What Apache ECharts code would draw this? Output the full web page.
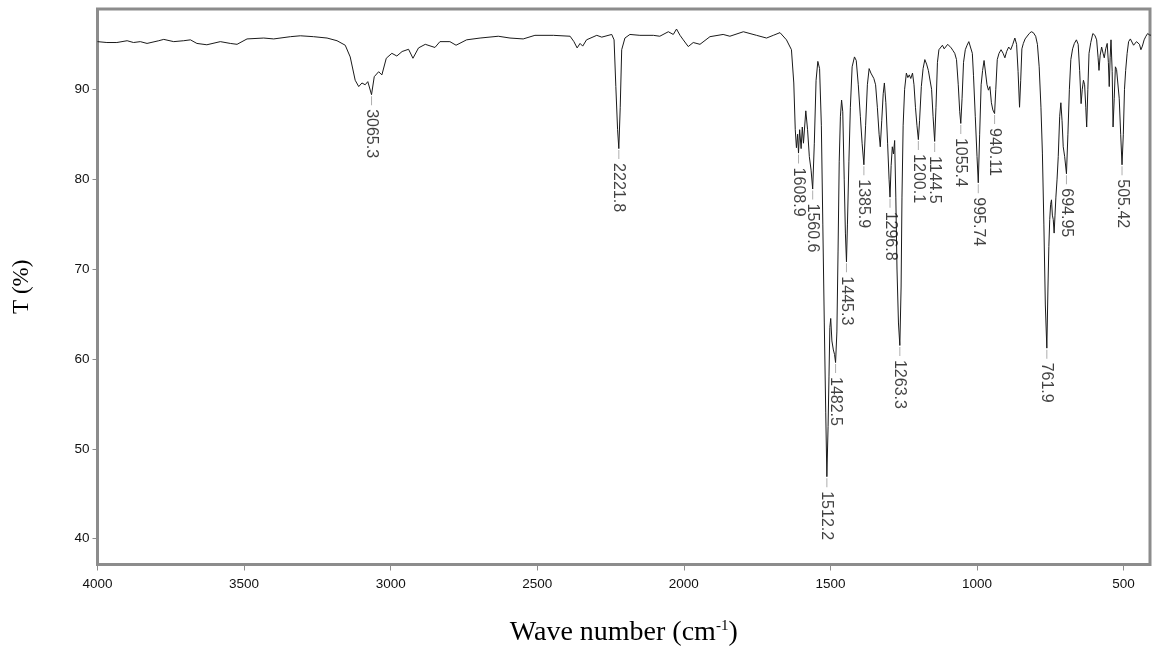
<!DOCTYPE html>
<html><head><meta charset="utf-8">
<script src="https://cdn.jsdelivr.net/npm/echarts@6/dist/echarts.min.js"></script>
<style>html,body{margin:0;padding:0;background:#fff}#c{width:1152px;height:652px}</style>
</head><body><div id="c"></div>
<script>
// Spectrum: wave number (cm-1) and transmittance (%)
const waveNumbers = [
4000,3968,3934,3899,3877,3854,3831,3791,3774,3740,3706,3683,3661,3627,3581,3547,3524,3490,3433,3399,
3342,3308,3263,3217,3183,3155,3138,3121,3109,3098,3087,3078,3065.3,3056,3041,3030,3015,2996,2979,2961,
2939,2924,2905,2882,2849,2832,2798,2777,2741,2695,2633,2593,2548,2508,2445,2388,2375,2364,2354,2345,
2332,2297,2280,2246,2238,2232,2226,2221.8,2217,2212,2201,2184,2150,2104,2082,2053,2036,2025,2013,2002,
1985,1968,1945,1911,1866,1843,1797,1752,1718,1695,1672,1650,1633,1625,1620,1616,1612,1608.9,1605,1600,
1596,1592,1584,1578,1572,1566,1560.6,1555,1549,1543,1537,1531,1526,1521,1516,1512.2,1508,1505,1502,1499,
1495,1490,1486,1482.5,1478,1474,1470,1466,1462,1458,1453,1449,1445.3,1442,1437,1432,1426,1418,1412,1405,
1398,1392,1385.9,1380,1374,1368,1362,1358,1352,1346,1340,1334,1330,1325,1320,1316,1311,1305,1300,1296.8,
1293,1289,1285,1281,1277,1273,1268,1263.3,1259,1256,1252,1247,1241,1236,1231,1226,1220,1215,1210,1205,
1200.1,1196,1190,1184,1178,1172,1166,1160,1155,1150,1144.5,1140,1135,1130,1124,1118,1112,1106,1100,1094,
1088,1082,1076,1070,1064,1059,1055.4,1051,1046,1040,1034,1028,1022,1016,1012,1006,1000,995.74,991,986,
981,976,971,966,961,956,951,946,940.11,936,931,925,918,911,905,899,892,885,878,871,
865,860,855,851,847,842,836,830,822,815,808,800,794,788,782,777,772,767,761.9,758,
755,752,749,746,743,740,737,734,731,727,723,718,714,710,706,701,694.95,690,685,680,
674,668,661,655,650,645,641,637,633,629,626,622,618,612,605,598,592,587,584,580,
575,570,566,561,556,552,549,546,543,539,536,532,528,524,520,515,510,505.42,501,497,
493,488,483,477,471,466,461,456,451,446,441,436,430,424,418,410,402
];
const transmittance = [
95.3,95.2,95.2,95.4,95.2,95.3,95.1,95.4,95.55,95.3,95.4,95.5,95.1,94.95,95.3,95.1,95.0,95.6,95.7,95.6,
95.85,95.95,95.85,95.7,95.4,94.9,93.6,91.0,90.3,90.7,90.5,90.85,89.4,91.4,91.95,91.6,93.45,94.0,93.7,94.2,
94.45,93.45,94.6,95.0,94.65,95.3,95.3,94.9,95.5,95.7,95.9,95.7,95.6,96.0,96.0,95.9,95.3,94.6,95.1,94.8,
95.5,96.0,95.8,96.1,95.5,90.3,85.5,83.4,88.0,94.4,95.7,96.1,96.0,96.0,95.9,96.4,96.1,96.7,96.0,95.5,
94.75,95.2,95.0,95.85,96.1,95.9,96.4,96.0,95.7,96.0,96.3,95.5,94.4,90.7,85.5,83.5,85.0,82.9,85.5,83.4,
85.8,84.0,87.6,85.5,82.5,81.0,78.9,84.0,91.0,93.1,92.3,86.0,75.0,64.0,54.0,46.9,52.5,58.0,63.5,64.5,
62.0,61.0,60.5,59.6,63.0,72.0,82.0,87.0,88.8,87.5,80.0,74.0,70.8,75.0,82.0,88.0,92.5,93.6,93.2,90.5,
87.0,84.0,81.6,86.0,90.5,92.3,91.8,92.0,91.2,90.5,88.0,85.0,83.6,86.5,89.5,90.7,88.5,84.0,80.0,78.0,
81.5,83.6,82.8,84.3,78.0,70.0,64.0,61.5,68.0,78.0,86.0,90.0,91.8,91.3,91.6,91.2,91.8,90.5,88.0,86.0,
84.4,86.5,90.3,92.3,93.3,92.8,92.1,92.0,90.0,87.0,84.2,88.0,93.0,94.4,94.6,94.9,94.5,94.4,95.0,95.1,
94.6,94.3,94.0,93.3,90.5,87.5,86.2,89.0,93.0,94.4,94.9,95.3,95.3,94.0,91.5,87.0,82.5,79.6,85.0,90.5,
92.1,93.2,93.4,90.5,89.9,90.3,88.5,87.7,87.3,90.0,93.3,94.0,94.4,94.0,93.5,94.2,94.7,94.4,95.0,95.7,
95.0,92.0,88.0,91.0,94.5,95.1,95.6,95.8,96.2,96.4,96.3,95.9,95.0,92.5,88.0,82.9,75.0,66.0,61.2,68.0,
72.5,75.5,77.2,77.7,76.0,75.5,74.0,76.0,78.0,80.0,82.5,87.0,88.5,86.5,83.6,82.5,80.6,85.0,90.0,93.3,
94.5,95.1,95.5,95.0,92.1,88.4,90.0,91.0,90.5,88.0,85.8,90.0,94.0,95.2,96.2,96.0,95.5,93.5,92.1,93.8,
94.7,94.0,93.5,94.5,95.1,93.0,90.3,93.5,95.5,92.0,85.8,89.0,92.5,92.2,92.0,89.0,85.0,81.6,85.0,90.0,
92.1,94.0,95.3,95.6,95.5,94.9,94.7,95.3,95.5,95.0,94.4,94.8,95.5,95.9,96.2,96.0,96.1
];
// Labelled peaks
const peakWaveNumbers = [3065.3,2221.8,1608.9,1560.6,1512.2,1482.5,1445.3,1385.9,1296.8,1263.3,1200.1,1144.5,1055.4,995.74,940.11,761.9,694.95,505.42];
const peakTransmittance = [89.4,83.4,82.9,78.9,46.9,59.6,70.8,81.6,78.0,61.5,84.4,84.2,86.2,79.6,87.3,61.2,80.6,81.6];
const peakLabels = ["3065.3","2221.8","1608.9","1560.6","1512.2","1482.5","1445.3","1385.9","1296.8","1263.3","1200.1","1144.5","1055.4","995.74","940.11","761.9","694.95","505.42"];
// Axis ticks
const xTicks = [500,1000,1500,2000,2500,3000,3500,4000];
const yTicks = [40,50,60,70,80,90];

const spectrum = waveNumbers.map((w, i) => [w, transmittance[i]]);
const peaks = peakWaveNumbers.map((w, i) => [w, peakTransmittance[i], peakLabels[i]]);

const chart = echarts.init(document.getElementById('c'), null, {renderer: 'canvas'});
chart.setOption({
  animation: false,
  backgroundColor: '#fff',
  grid: {left: 97.5, right: 2, top: 9, bottom: 87.5, show: true, borderColor: '#8c8c8c', borderWidth: 3, containLabel: false},
  xAxis: {
    type: 'value', inverse: true, min: 410, max: 4000,
    name: 'Wave number (cm{sup|-1})', nameLocation: 'middle', nameGap: 54,
    nameTextStyle: {fontFamily: 'Liberation Serif', fontSize: 28, color: '#000',
      rich: {sup: {fontFamily: 'Liberation Serif', fontSize: 15, color: '#000', padding: [0, 0, 14, 0]}}},
    axisLine: {show: false},
    axisTick: {show: true, length: 6, lineStyle: {color: '#8c8c8c', width: 1}, customValues: xTicks},
    axisLabel: {color: '#111', fontFamily: 'Liberation Sans', fontSize: 13.5, margin: 13, customValues: xTicks,
      formatter: v => String(v)},
    splitLine: {show: false}
  },
  yAxis: {
    type: 'value', min: 37.13, max: 98.93,
    name: 'T (%)', nameLocation: 'middle', nameGap: 64,
    nameTextStyle: {fontFamily: 'Liberation Serif', fontSize: 23, color: '#000'},
    axisLine: {show: false},
    axisTick: {show: true, length: 5, lineStyle: {color: '#8c8c8c', width: 1}, customValues: yTicks},
    axisLabel: {color: '#111', fontFamily: 'Liberation Sans', fontSize: 13.5, margin: 8, customValues: yTicks,
      formatter: v => String(v)},
    splitLine: {show: false}
  },
  series: [
    {
      type: 'line', data: spectrum, showSymbol: false, symbol: 'none', clip: true,
      lineStyle: {color: '#1a1a1a', width: 1}, silent: true, z: 3
    },
    {
      type: 'scatter', data: peaks, symbol: 'rect', symbolSize: [1, 9], symbolOffset: [0, 6],
      itemStyle: {color: '#9a9a9a'}, silent: true, z: 4,
      label: {
        show: true, formatter: p => p.data[2], position: 'bottom', distance: 4,
        rotate: -90, align: 'left', verticalAlign: 'middle',
        fontFamily: 'Liberation Sans', fontSize: 16, color: '#111'
      }
    }
  ]
});
</script>
</body></html>
